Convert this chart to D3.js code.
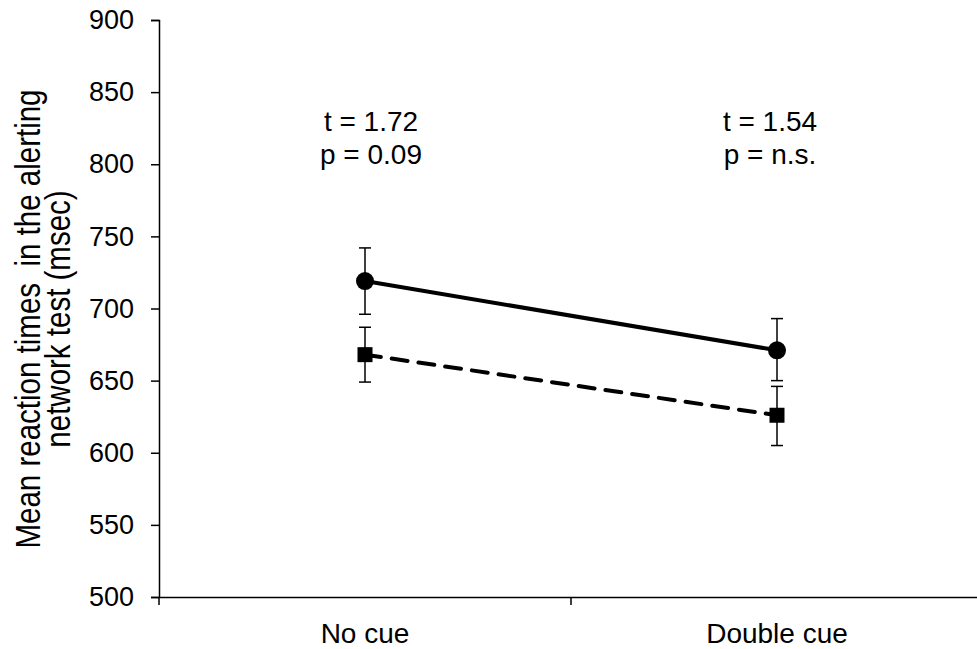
<!DOCTYPE html>
<html>
<head>
<meta charset="utf-8">
<script src="https://cdn.jsdelivr.net/npm/d3@7"></script>
<style>
  body { margin: 0; background: #fff; }
  text { font-family: "Liberation Sans", Arial, sans-serif; fill: #000; }
</style>
</head>
<body>
<div id="chart"></div>
<script>
const width = 977;
const height = 649;

// data
const categories = ["No cue", "Double cue"];
const solidMeans = [719, 671];
const solidErrLow = [696, 650];
const solidErrHigh = [742, 693];
const dashedMeans = [668, 626];
const dashedErrLow = [649, 605];
const dashedErrHigh = [687, 646];
const yTicks = [500, 550, 600, 650, 700, 750, 800, 850, 900];
const annotations = [
  ["t = 1.72", "p = 0.09"],
  ["t = 1.54", "p = n.s."]
];

const margin = { left: 159, top: 20, right: -6, bottom: 52 };

const svg = d3
  .select("#chart")
  .append("svg")
  .attr("width", width)
  .attr("height", height);

const x = d3
  .scaleBand()
  .domain(categories)
  .range([margin.left, width - margin.right]);

const y = d3
  .scaleLinear()
  .domain([500, 900])
  .range([height - margin.bottom, margin.top]);

// axes
const yAxis = svg
  .append("g")
  .attr("transform", `translate(${margin.left},0)`)
  .call(d3.axisLeft(y).tickValues(yTicks).tickSize(8).tickSizeOuter(8).tickPadding(17));
yAxis.selectAll("text").style("font-size", "27px");
yAxis.selectAll("path, line").attr("stroke", "#000").attr("stroke-width", 1.5);

const xAxis = svg
  .append("g")
  .attr("transform", `translate(0,${height - margin.bottom})`)
  .call(d3.axisBottom(x).tickSize(0).tickPadding(26));
xAxis.selectAll("text").style("font-size", "28px");
xAxis.select(".domain").attr("stroke", "#000").attr("stroke-width", 1.5);
svg.selectAll("g").attr("font-family", null);

// boundary ticks between categories
xAxis
  .selectAll(".sep")
  .data([x.range()[0], x(categories[1])])
  .enter()
  .append("line")
  .attr("x1", d => d)
  .attr("x2", d => d)
  .attr("y1", 0)
  .attr("y2", 8)
  .attr("stroke", "#000")
  .attr("stroke-width", 1.5);

const cx = d => x(d) + x.bandwidth() / 2;

// error bars
const drawErrors = (lows, highs) => {
  categories.forEach((c, i) => {
    const g = svg.append("g").attr("stroke", "#000").attr("stroke-width", 1.5);
    g.append("line")
      .attr("x1", cx(c)).attr("x2", cx(c))
      .attr("y1", y(lows[i])).attr("y2", y(highs[i]));
    [lows[i], highs[i]].forEach(v => {
      g.append("line")
        .attr("x1", cx(c) - 6).attr("x2", cx(c) + 6)
        .attr("y1", y(v)).attr("y2", y(v));
    });
  });
};
drawErrors(solidErrLow, solidErrHigh);
drawErrors(dashedErrLow, dashedErrHigh);

const line = d3
  .line()
  .x((d, i) => cx(categories[i]))
  .y(d => y(d));

// dashed series
svg
  .append("path")
  .datum(dashedMeans)
  .attr("d", line)
  .attr("fill", "none")
  .attr("stroke", "#000")
  .attr("stroke-width", 4)
  .attr("stroke-dasharray", "16,11")
  .attr("stroke-linecap", "round");

svg
  .selectAll(".sq")
  .data(dashedMeans)
  .enter()
  .append("rect")
  .attr("class", "sq")
  .attr("x", (d, i) => cx(categories[i]) - 7.5)
  .attr("y", d => y(d) - 7.5)
  .attr("width", 15)
  .attr("height", 15)
  .attr("fill", "#000");

// solid series
svg
  .append("path")
  .datum(solidMeans)
  .attr("d", line)
  .attr("fill", "none")
  .attr("stroke", "#000")
  .attr("stroke-width", 4);

svg
  .selectAll(".dot")
  .data(solidMeans)
  .enter()
  .append("circle")
  .attr("class", "dot")
  .attr("cx", (d, i) => cx(categories[i]))
  .attr("cy", d => y(d))
  .attr("r", 9)
  .attr("fill", "#000");

// annotations
annotations.forEach((lines, i) => {
  const t = svg
    .append("text")
    .attr("text-anchor", "middle")
    .style("font-size", "28px");
  lines.forEach((s, j) => {
    t.append("tspan")
      .attr("x", cx(categories[i]) + 6 - i * 13)
      .attr("y", 131 + j * 33)
      .text(s);
  });
});

// y axis title (glyphs a bit stretched across, like the reference)
const title = svg
  .append("text")
  .attr("transform", "translate(0,319) rotate(-90) scale(1,1.2)")
  .attr("text-anchor", "middle")
  .style("font-size", "29.5px");
title.append("tspan").attr("x", 0).attr("y", 33).text("Mean reaction times \u00a0in the alerting");
title.append("tspan").attr("x", 0).attr("y", 58.5).text("network test (msec)");
</script>
</body>
</html>
